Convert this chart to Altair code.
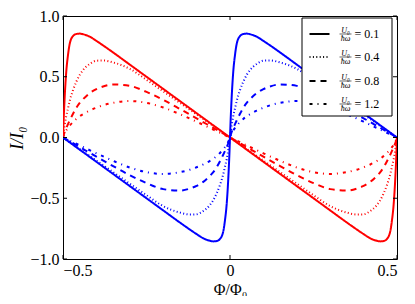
import altair as alt
import pandas as pd

# x positions (Phi/Phi0)
x_red = [-0.5, -0.498, -0.495, -0.49, -0.485, -0.48, -0.47, -0.46, -0.45, -0.44, -0.42, -0.4, -0.38, -0.35,
         -0.3, -0.25, -0.2, -0.15, -0.1, -0.05, 0, 0.05, 0.1, 0.15, 0.2, 0.25, 0.3, 0.35, 0.38, 0.4, 0.42,
         0.44, 0.45, 0.46, 0.47, 0.48, 0.485, 0.49, 0.495, 0.498, 0.5]
x_blue = [-0.5, -0.45, -0.4, -0.35, -0.3, -0.25, -0.2, -0.15, -0.12, -0.1, -0.08, -0.06, -0.05, -0.04, -0.03,
          -0.02, -0.015, -0.01, -0.005, -0.002, 0, 0.002, 0.005, 0.01, 0.015, 0.02, 0.03, 0.04, 0.05, 0.06,
          0.08, 0.1, 0.12, 0.15, 0.2, 0.25, 0.3, 0.35, 0.4, 0.45, 0.5]

red_01 = [0, 0.15, 0.33, 0.55, 0.68, 0.77, 0.835, 0.852, 0.855, 0.85, 0.83, 0.795, 0.758, 0.70, 0.60, 0.50,
          0.40, 0.30, 0.20, 0.10, 0, -0.10, -0.20, -0.30, -0.40, -0.50, -0.60, -0.70, -0.758, -0.795, -0.83,
          -0.85, -0.855, -0.852, -0.835, -0.77, -0.68, -0.55, -0.33, -0.15, 0]
red_04 = [0, 0.04, 0.10, 0.18, 0.24, 0.30, 0.39, 0.46, 0.515, 0.555, 0.605, 0.632, 0.634, 0.618, 0.565, 0.475,
          0.38, 0.285, 0.19, 0.095, 0, -0.095, -0.19, -0.285, -0.38, -0.475, -0.565, -0.618, -0.634, -0.632,
          -0.605, -0.555, -0.515, -0.46, -0.39, -0.30, -0.24, -0.18, -0.10, -0.04, 0]
red_08 = [0, 0.02, 0.045, 0.08, 0.11, 0.14, 0.195, 0.245, 0.285, 0.315, 0.365, 0.398, 0.42, 0.437, 0.425, 0.375,
          0.31, 0.235, 0.158, 0.079, 0, -0.079, -0.158, -0.235, -0.31, -0.375, -0.425, -0.437, -0.42, -0.398,
          -0.365, -0.315, -0.285, -0.245, -0.195, -0.14, -0.11, -0.08, -0.045, -0.02, 0]
red_12 = [0, 0.015, 0.035, 0.06, 0.08, 0.097, 0.127, 0.153, 0.175, 0.192, 0.222, 0.245, 0.265, 0.285, 0.30,
          0.285, 0.247, 0.192, 0.13, 0.065, 0, -0.065, -0.13, -0.192, -0.247, -0.285, -0.30, -0.285, -0.265,
          -0.245, -0.222, -0.192, -0.175, -0.153, -0.127, -0.097, -0.08, -0.06, -0.035, -0.015, 0]

blue_01 = [0, -0.10, -0.20, -0.30, -0.40, -0.50, -0.60, -0.70, -0.758, -0.795, -0.83, -0.85, -0.855, -0.852,
           -0.835, -0.77, -0.68, -0.55, -0.33, -0.15, 0, 0.15, 0.33, 0.55, 0.68, 0.77, 0.835, 0.852, 0.855, 0.85,
           0.83, 0.795, 0.758, 0.70, 0.60, 0.50, 0.40, 0.30, 0.20, 0.10, 0]
blue_04 = [0, -0.095, -0.19, -0.285, -0.38, -0.475, -0.565, -0.618, -0.634, -0.632, -0.605, -0.555, -0.515,
           -0.46, -0.39, -0.30, -0.24, -0.18, -0.10, -0.04, 0, 0.04, 0.10, 0.18, 0.24, 0.30, 0.39, 0.46, 0.515,
           0.555, 0.605, 0.632, 0.634, 0.618, 0.565, 0.475, 0.38, 0.285, 0.19, 0.095, 0]
blue_08 = [0, -0.079, -0.158, -0.235, -0.31, -0.375, -0.425, -0.437, -0.42, -0.398, -0.365, -0.315, -0.285,
           -0.245, -0.195, -0.14, -0.11, -0.08, -0.045, -0.02, 0, 0.02, 0.045, 0.08, 0.11, 0.14, 0.195, 0.245,
           0.285, 0.315, 0.365, 0.398, 0.42, 0.437, 0.425, 0.375, 0.31, 0.235, 0.158, 0.079, 0]
blue_12 = [0, -0.065, -0.13, -0.192, -0.247, -0.285, -0.30, -0.285, -0.265, -0.245, -0.222, -0.192, -0.175,
           -0.153, -0.127, -0.097, -0.08, -0.06, -0.035, -0.015, 0, 0.015, 0.035, 0.06, 0.08, 0.097, 0.127,
           0.153, 0.175, 0.192, 0.222, 0.245, 0.265, 0.285, 0.30, 0.285, 0.247, 0.192, 0.13, 0.065, 0]

u_labels = ["0.1", "0.4", "0.8", "1.2"]
x_ticks = [-0.5, 0, 0.5]
y_ticks = [-1.0, -0.5, 0.0, 0.5, 1.0]

W, H = 334, 243
FONT = "Liberation Serif, DejaVu Serif, serif"

rows = []
for u, ys in zip(u_labels, [red_01, red_04, red_08, red_12]):
    for xv, yv in zip(x_red, ys):
        rows.append({"x": xv, "y": yv, "c": "red", "u": u, "s": "red" + u})
for u, ys in zip(u_labels, [blue_01, blue_04, blue_08, blue_12]):
    for xv, yv in zip(x_blue, ys):
        rows.append({"x": xv, "y": yv, "c": "blue", "u": u, "s": "blue" + u})
df = pd.DataFrame(rows)

dashes = [[1, 0], [1, 2.4], [6, 5], [3, 5, 1, 5]]

xscale = alt.Scale(domain=[-0.5, 0.5], nice=False, zero=False)
yscale = alt.Scale(domain=[-1, 1], nice=False, zero=False)

lines = alt.Chart(df).mark_line(strokeWidth=2, interpolate="monotone", clip=True).encode(
    x=alt.X("x:Q", scale=xscale, axis=alt.Axis(
        values=x_ticks, labelExpr="datum.value == 0 ? '0' : format(datum.value, '.1f')",
        tickSize=0, domain=False, grid=False, labelFont=FONT, labelFontSize=16, labelPadding=3,
        labelColor="black", title="Φ/Φ₀", titleFont=FONT, titleFontSize=16, titleFontWeight="normal",
        titleColor="black", titleBaseline="alphabetic", titleY=35)),
    y=alt.Y("y:Q", scale=yscale, axis=alt.Axis(
        values=y_ticks, format=".1f", tickSize=0, domain=False, grid=False, labelFont=FONT,
        labelFontSize=16, labelPadding=4, labelColor="black", title="I/I₀", titleFont=FONT,
        titleFontSize=18, titleFontWeight="normal", titleFontStyle="italic", titleColor="black",
        titleBaseline="top", titleX=-55, titleY=H / 2)),
    color=alt.Color("c:N", scale=alt.Scale(domain=["red", "blue"], range=["#ff0000", "#0000ff"]), legend=None),
    strokeDash=alt.StrokeDash("u:N", scale=alt.Scale(domain=u_labels, range=dashes), legend=None),
    detail="s:N",
)

TL = 4
xt = pd.DataFrame({"v": x_ticks})
yt = pd.DataFrame({"v": y_ticks})
tick_bottom = alt.Chart(xt).mark_rule(color="black", strokeWidth=1).encode(
    x=alt.X("v:Q", scale=xscale), y=alt.value(H), y2=alt.value(H - TL))
tick_top = alt.Chart(xt).mark_rule(color="black", strokeWidth=1).encode(
    x=alt.X("v:Q", scale=xscale), y=alt.value(0), y2=alt.value(TL))
tick_left = alt.Chart(yt).mark_rule(color="black", strokeWidth=1).encode(
    y=alt.Y("v:Q", scale=yscale), x=alt.value(0), x2=alt.value(TL))
tick_right = alt.Chart(yt).mark_rule(color="black", strokeWidth=1).encode(
    y=alt.Y("v:Q", scale=yscale), x=alt.value(W - TL), x2=alt.value(W))

one = pd.DataFrame({"a": [0]})
LX = W - 95
legend_layers = [
    alt.Chart(one).mark_rect(fill="white", stroke="black", strokeWidth=1).encode(
        x=alt.value(LX), x2=alt.value(LX + 90), y=alt.value(2), y2=alt.value(100))
]
row_y = [18, 41, 65, 88]
for u, d, ry in zip(u_labels, dashes, row_y):
    legend_layers.append(alt.Chart(one).mark_rule(color="black", strokeWidth=2, strokeDash=d).encode(
        x=alt.value(LX + 7.5), x2=alt.value(LX + 27.5), y=alt.value(ry)))
    legend_layers.append(alt.Chart(one).mark_text(font=FONT, fontSize=8, fontStyle="italic",
                                                  baseline="alphabetic", align="center", color="black").encode(
        x=alt.value(LX + 43.5), y=alt.value(ry - 1.5), text=alt.value("U₀")))
    legend_layers.append(alt.Chart(one).mark_rule(color="black", strokeWidth=0.6).encode(
        x=alt.value(LX + 37.5), x2=alt.value(LX + 49.5), y=alt.value(ry)))
    legend_layers.append(alt.Chart(one).mark_text(font=FONT, fontSize=8, fontStyle="italic",
                                                  baseline="top", align="center", color="black").encode(
        x=alt.value(LX + 43.5), y=alt.value(ry + 1), text=alt.value("ħω")))
    legend_layers.append(alt.Chart(one).mark_text(font=FONT, fontSize=12, baseline="middle",
                                                  align="left", color="black").encode(
        x=alt.value(LX + 52.5), y=alt.value(ry), text=alt.value("= " + u)))

chart = alt.layer(lines, tick_bottom, tick_top, tick_left, tick_right, *legend_layers).properties(
    width=W, height=H,
    autosize=alt.AutoSizeParams(type="none"),
    padding={"left": 55, "top": 8, "right": 10, "bottom": 37},
).configure_view(stroke="black", strokeWidth=1)

chart.save("out.html", embed_options={"renderer": "svg", "actions": False})
